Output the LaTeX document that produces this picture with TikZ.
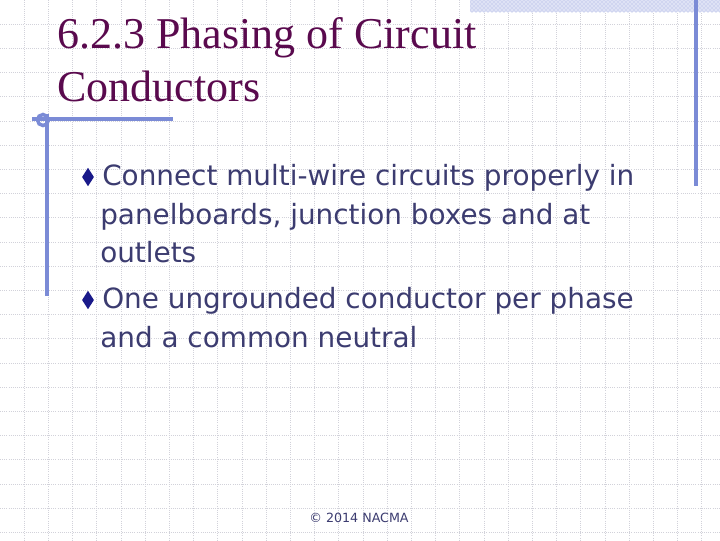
\documentclass[tikz,border=0pt]{standalone}
\usepackage{fontspec}
\setmainfont{Liberation Serif}
\newfontfamily\bodyf{DejaVu Sans}
\usetikzlibrary{patterns,shapes.geometric}
\definecolor{titlec}{HTML}{5A0A4E}
\definecolor{bodyc}{HTML}{3C3C70}
\definecolor{accent}{HTML}{7B8BD6}
\definecolor{gridc}{HTML}{D2D2DA}
\definecolor{bulc}{HTML}{1A1A8A}
\tikzset{
  bl/.style={anchor=base west,font=\bodyf\fontsize{20.9}{24}\selectfont,text=bodyc,inner sep=0},
  bul/.style={diamond,fill=bulc,inner sep=0,minimum width=9pt,minimum height=14pt},
  acc/.style={draw=accent,line width=2.6pt}
}
\begin{document}
\begin{tikzpicture}[x=0.75pt,y=-0.75pt]
\useasboundingbox (0,0) rectangle (720,540);
\fill[white] (0,0) rectangle (720,540);
\foreach \i in {1,...,30} {\draw[gridc,densely dotted,line width=0.6pt] (\i*24.2,0) -- (\i*24.2,540);}
\foreach \i in {1,...,22} {\draw[gridc,densely dotted,line width=0.6pt] (0,\i*24.2) -- (720,\i*24.2);}
\fill[accent!25] (470,0) rectangle (720,12);
\fill[pattern=crosshatch dots,pattern color=accent!70] (470,0) rectangle (720,12);
\node[anchor=base west,inner sep=0,text=titlec,font=\fontsize{33}{38}\selectfont] (t1) at (57,48) {6.2.3 Phasing of Circuit};
\node[anchor=base west,inner sep=0,text=titlec,font=\fontsize{33}{38}\selectfont] (t2) at (57,101) {Conductors};
\draw[acc] (696,0) -- (696,186);
\draw[acc] (32,119) -- (173,119);
\draw[acc] (47,114) -- (47,296);
\draw[acc] (43,120) circle (5.5);
\node[bul] (b1) at (88,177) {};
\node[bl] (l1) at (102,185) {Connect multi-wire circuits properly in};
\node[bl] (l2) at (100,224) {panelboards, junction boxes and at};
\node[bl] (l3) at (100,262) {outlets};
\node[bul] (b2) at (88,300) {};
\node[bl] (l4) at (102,308) {One ungrounded conductor per phase};
\node[bl] (l5) at (100,347) {and a common neutral};
\node[anchor=base,inner sep=0,text=bodyc,font=\bodyf\fontsize{9.5}{11}\selectfont] (f) at (359,522) {© 2014 NACMA};
\end{tikzpicture}
\end{document}
